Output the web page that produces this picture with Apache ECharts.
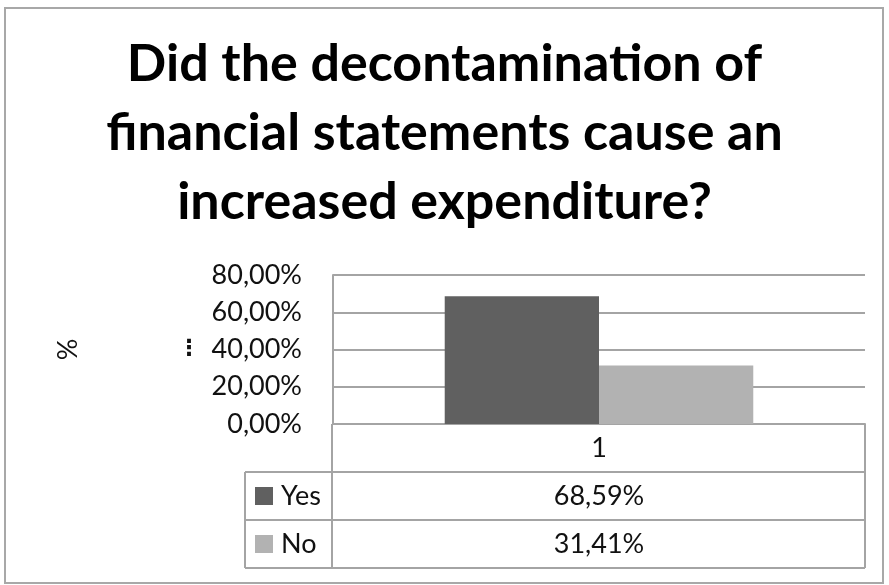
<!DOCTYPE html>
<html><head><meta charset="utf-8">
<script src="https://cdn.jsdelivr.net/npm/echarts@6/dist/echarts.min.js"></script>
<style>html,body{margin:0;padding:0;background:#fff}#main{width:889px;height:585px}</style>
</head>
<body>
<div id="main"></div>
<script>
// ---- data ----
const categories = ['1'];
const seriesNames = ['Yes', 'No'];
const yesValues = [0.6859];
const noValues = [0.3141];
const seriesColors = ['#606060', '#b2b2b2'];
const titleLines = ['Did the decontamination of', 'financial statements cause an', 'increased expenditure?'];
const yMin = 0, yMax = 0.8, yInterval = 0.2;
const yAxisName = '%';

const fmt = v => (v * 100).toFixed(2).replace('.', ',') + '%';
const FONT = 'Lato';
const GRID = { left: 333, right: 24, top: 275, bottom: 161 };
const W = 889, H = 585;
const plotL = GRID.left, plotR = W - GRID.right, plotB = H - GRID.bottom;
const rowH = 48, legendL = 245;
const lineCol = '#a4a4a4';

const chart = echarts.init(document.getElementById('main'), null, { renderer: 'canvas' });
const allValues = [yesValues, noValues];

chart.setOption({
  animation: false,
  backgroundColor: '#fff',
  title: {
    text: titleLines.join('\n'),
    left: 'center',
    top: 30,
    padding: [0, 0, 0, 17],
    textStyle: { fontFamily: FONT, fontWeight: 'bold', fontSize: 52, lineHeight: 69, color: '#000' }
  },
  grid: { left: GRID.left, right: GRID.right, top: GRID.top, bottom: GRID.bottom, containLabel: false },
  xAxis: {
    type: 'category',
    data: categories,
    axisLine: { show: true, lineStyle: { color: lineCol, width: 2 } },
    axisTick: { show: false },
    axisLabel: { margin: 24, verticalAlign: 'middle', fontFamily: FONT, fontSize: 27, color: '#111' }
  },
  yAxis: {
    type: 'value',
    min: yMin, max: yMax, interval: yInterval,
    name: yAxisName,
    nameLocation: 'middle',
    nameGap: 251,
    nameRotate: 90,
    nameTextStyle: { fontFamily: FONT, fontSize: 27, color: '#111' },
    axisLine: { show: true, lineStyle: { color: lineCol, width: 2 } },
    axisTick: { show: false },
    axisLabel: { margin: 31, fontFamily: FONT, fontSize: 27, color: '#111', formatter: fmt },
    splitLine: { show: true, lineStyle: { color: lineCol, width: 2 } }
  },
  series: seriesNames.map((n, i) => ({
    name: n,
    type: 'bar',
    data: allValues[i],
    barGap: '0%',
    barCategoryGap: '42%',
    itemStyle: { color: seriesColors[i] }
  }))
});

// ---- data table drawn below the plot ----
const cx = chart.convertToPixel({ xAxisIndex: 0 }, categories[0]);
const g = [];
g.push({ type: 'rect', shape: { x: 5, y: 8, width: 878, height: 575 }, style: { fill: 'none', stroke: '#a8a8a8', lineWidth: 2 }, silent: true });
const hl = (y, x1, x2) => g.push({ type: 'line', shape: { x1, y1: y, x2, y2: y }, style: { stroke: lineCol, lineWidth: 2 }, silent: true });
const vl = (x, y1, y2) => g.push({ type: 'line', shape: { x1: x, y1, x2: x, y2 }, style: { stroke: lineCol, lineWidth: 2 }, silent: true });
const nRows = seriesNames.length;
for (let r = 1; r <= nRows + 1; r++) hl(plotB + rowH * r, legendL, plotR);
vl(legendL, plotB + rowH, plotB + rowH * (nRows + 1));
vl(plotL - 1, plotB, plotB + rowH * (nRows + 1));
vl(plotR, plotB, plotB + rowH * (nRows + 1));
seriesNames.forEach((n, i) => {
  const yc = plotB + rowH * (i + 1) + rowH / 2;
  g.push({ type: 'rect', shape: { x: legendL + 10, y: yc - 9, width: 18, height: 18 }, style: { fill: seriesColors[i] }, silent: true });
  g.push({ type: 'text', x: legendL + 36, y: yc, style: { text: n, fontFamily: FONT, fontSize: 27, fill: '#111', align: 'left', verticalAlign: 'middle' }, silent: true });
  g.push({ type: 'text', x: cx, y: yc, style: { text: fmt(allValues[i][0]), fontFamily: FONT, fontSize: 27, fill: '#111', align: 'center', verticalAlign: 'middle' }, silent: true });
});
// truncated secondary label marker
g.push({ type: 'text', x: 189, y: 349, style: { text: '\u22EE', fontFamily: 'DejaVu Sans', fontWeight: 'bold', fontSize: 22, fill: '#111', align: 'center', verticalAlign: 'middle' }, silent: true });
chart.setOption({ graphic: g });
</script>
</body></html>
